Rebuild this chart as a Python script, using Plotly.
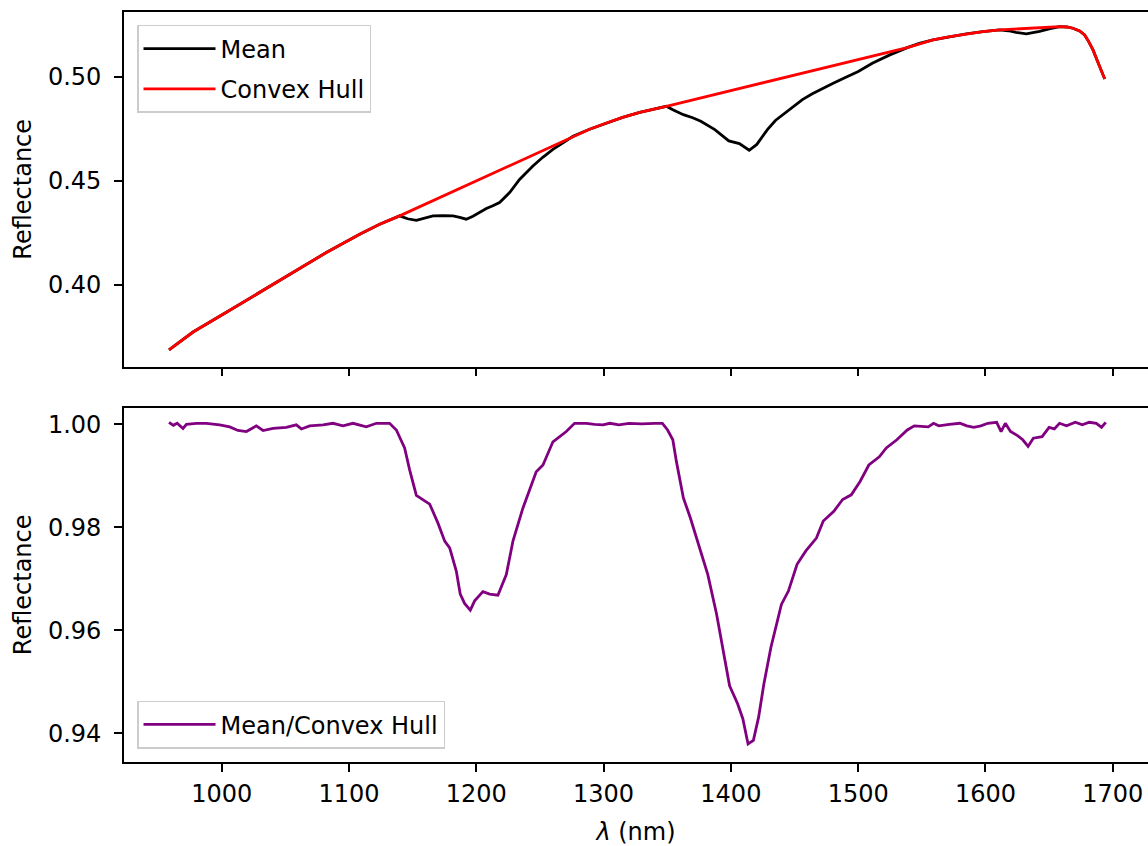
import plotly.graph_objects as go
from plotly.subplots import make_subplots

# ---- data ----
mean_wl = [958.6, 977.5, 1003.7, 1029.9, 1056.0, 1082.2, 1108.4, 1124.1, 1139.8, 1146.0,
           1152.9, 1160.0, 1166.0, 1174.0, 1181.7, 1187.0, 1192.1, 1197.4, 1203.0, 1207.9,
           1213.0, 1218.3, 1226.2, 1234.0, 1244.5, 1252.0, 1260.2, 1268.0, 1276.0, 1289.0,
           1302.2, 1315.0, 1328.4, 1340.0, 1349.3, 1354.4, 1362.7, 1370.0, 1376.4, 1387.4,
           1393.0, 1398.4, 1406.7, 1414.4, 1420.4, 1428.7, 1435.0, 1442.4, 1450.0, 1456.2,
           1464.0, 1472.6, 1480.0, 1489.1, 1500.1, 1511.1, 1524.9, 1538.6, 1548.0, 1558.8,
           1572.0, 1585.0, 1598.0, 1611.2, 1618.0, 1624.0, 1632.1, 1637.0, 1642.5, 1650.0,
           1658.3, 1664.0, 1668.7, 1674.0, 1677.9, 1681.0, 1684.5, 1689.0, 1693.7]
mean_refl = [0.3688, 0.3774, 0.3869, 0.3965, 0.4061, 0.4156, 0.4244, 0.4292, 0.4332, 0.4318,
             0.4310, 0.4322, 0.4332, 0.4333, 0.4332, 0.4325, 0.4316, 0.4330, 0.4352, 0.4367,
             0.4380, 0.4396, 0.4444, 0.4507, 0.4571, 0.4612, 0.4651, 0.4683, 0.4714, 0.4748,
             0.4778, 0.4805, 0.4829, 0.4846, 0.4858, 0.4842, 0.4818, 0.4803, 0.4786, 0.4746,
             0.4720, 0.4692, 0.4679, 0.4647, 0.4675, 0.4746, 0.4790, 0.4826, 0.4860, 0.4890,
             0.4918, 0.4946, 0.4968, 0.4994, 0.5025, 0.5065, 0.5105, 0.5140, 0.5160, 0.5177,
             0.5193, 0.5206, 0.5217, 0.5225, 0.5221, 0.5213, 0.5206, 0.5210, 0.5218, 0.5230,
             0.5241, 0.5239, 0.5233, 0.5220, 0.5201, 0.5170, 0.5129, 0.5060, 0.4989]

hull_wl = [958.6, 977.5, 1003.7, 1029.9, 1056.0, 1082.2, 1108.4, 1124.1, 1139.8, 1276.0,
           1289.0, 1302.2, 1315.0, 1328.4, 1340.0, 1349.3, 1538.6, 1558.8, 1572.0, 1585.0,
           1598.0, 1611.2, 1658.3, 1664.0, 1668.7, 1674.0, 1677.9, 1681.0, 1684.5, 1689.0,
           1693.7]
hull_refl = [0.3688, 0.3774, 0.3869, 0.3965, 0.4061, 0.4156, 0.4244, 0.4292, 0.4332, 0.4714,
             0.4748, 0.4778, 0.4805, 0.4829, 0.4846, 0.4858, 0.5140, 0.5177, 0.5193, 0.5206,
             0.5217, 0.5225, 0.5241, 0.5239, 0.5233, 0.5220, 0.5201, 0.5170, 0.5129, 0.5060,
             0.4989]

ratio_wl = [958.6, 962.0, 965.0, 969.6, 972.3, 980.1, 988.0, 998.4, 1006.3, 1012.8,
            1019.4, 1027.2, 1032.5, 1040.3, 1050.8, 1058.6, 1062.6, 1069.1, 1079.6, 1087.4,
            1095.3, 1103.1, 1113.6, 1121.5, 1131.9, 1137.2, 1143.7, 1147.6, 1152.9, 1158.1,
            1163.4, 1169.9, 1175.2, 1179.1, 1184.3, 1187.4, 1190.8, 1195.3, 1198.7, 1205.2,
            1210.5, 1217.0, 1223.6, 1228.8, 1236.6, 1247.1, 1252.4, 1260.2, 1270.7, 1277.2,
            1286.4, 1293.0, 1299.5, 1305.0, 1312.0, 1320.0, 1330.0, 1340.0, 1346.2, 1350.3,
            1354.4, 1357.2, 1362.7, 1368.2, 1375.1, 1381.9, 1388.8, 1394.3, 1399.0, 1405.3,
            1409.4, 1413.5, 1417.7, 1421.8, 1425.9, 1431.4, 1439.7, 1445.2, 1452.0, 1458.9,
            1467.2, 1472.6, 1480.9, 1487.8, 1494.6, 1501.5, 1508.4, 1516.6, 1522.1, 1530.4,
            1538.6, 1544.1, 1555.1, 1559.2, 1563.4, 1571.6, 1579.9, 1585.4, 1590.9, 1596.4,
            1601.9, 1608.8, 1612.3, 1615.6, 1619.7, 1625.2, 1629.3, 1633.5, 1637.6, 1644.5,
            1650.0, 1654.1, 1658.2, 1663.7, 1670.6, 1676.1, 1681.6, 1687.1, 1691.2, 1694.5]
ratio_refl = [1.0004, 0.9998, 1.0002, 0.9992, 1.0000, 1.0002, 1.0002, 0.9999, 0.9995, 0.9988,
              0.9986, 0.9997, 0.9988, 0.9992, 0.9994, 0.9999, 0.9991, 0.9997, 0.9999, 1.0002,
              0.9997, 1.0002, 0.9995, 1.0002, 1.0002, 0.9989, 0.9954, 0.9912, 0.9862, 0.9854,
              0.9845, 0.9808, 0.9773, 0.9760, 0.9715, 0.9670, 0.9652, 0.9639, 0.9657, 0.9675,
              0.9670, 0.9668, 0.9708, 0.9773, 0.9837, 0.9908, 0.9921, 0.9966, 0.9986, 1.0002,
              1.0002, 1.0000, 0.9999, 1.0002, 0.9999, 1.0002, 1.0001, 1.0002, 1.0002, 0.9989,
              0.9970, 0.9928, 0.9857, 0.9818, 0.9760, 0.9708, 0.9631, 0.9554, 0.9492, 0.9457,
              0.9428, 0.9379, 0.9386, 0.9431, 0.9495, 0.9566, 0.9650, 0.9676, 0.9728, 0.9754,
              0.9779, 0.9812, 0.9831, 0.9854, 0.9863, 0.9889, 0.9921, 0.9937, 0.9954, 0.9970,
              0.9989, 0.9997, 0.9995, 1.0002, 0.9997, 1.0000, 1.0002, 0.9997, 0.9994, 0.9997,
              1.0002, 1.0004, 0.9986, 1.0002, 0.9986, 0.9978, 0.9970, 0.9957, 0.9973, 0.9976,
              0.9994, 0.9991, 1.0002, 0.9997, 1.0004, 0.9999, 1.0004, 1.0002, 0.9994, 1.0004]

x_ticks = [1000, 1100, 1200, 1300, 1400, 1500, 1600, 1700]
top_ticks = [0.40, 0.45, 0.50]
bottom_ticks = [0.94, 0.96, 0.98, 1.00]

FONT = "DejaVu Sans"
FS = 24
LW = 2.8

fig = make_subplots(rows=2, cols=1, shared_xaxes=True, vertical_spacing=0.0)

fig.add_trace(go.Scatter(x=mean_wl, y=mean_refl, mode="lines", name="Mean",
                         legendgroup="g1",
                         line=dict(color="black", width=LW), legend="legend"), row=1, col=1)
fig.add_trace(go.Scatter(x=hull_wl, y=hull_refl, mode="lines", name="Convex Hull",
                         legendgroup="g2",
                         line=dict(color="red", width=LW), legend="legend"), row=1, col=1)
fig.add_trace(go.Scatter(x=ratio_wl, y=ratio_refl, mode="lines", name="Mean/Convex Hull",
                         line=dict(color="purple", width=LW), legend="legend2"), row=2, col=1)

axis_common = dict(showline=True, linecolor="black", linewidth=1.6, ticks="outside",
                   ticklen=8, tickwidth=1.6, tickcolor="black", showgrid=False, zeroline=False,
                   tickfont=dict(family=FONT, size=FS, color="black"))

xrange = [923.25, 1727.7]
fig.update_xaxes(**axis_common, mirror=True, range=xrange, tickvals=x_ticks)
fig.update_xaxes(showticklabels=False, row=1, col=1)
fig.update_xaxes(ticklabelstandoff=1,
                 title=dict(text="<i>λ</i> (nm)", font=dict(family=FONT, size=FS, color="black"),
                            standoff=22),
                 row=2, col=1)

fig.update_yaxes(**axis_common, mirror=False)
fig.update_yaxes(range=[0.3608, 0.5311], tickvals=top_ticks, tickformat=".2f",
                 domain=[0.5272, 1.0], ticklabelstandoff=8,
                 title=dict(text="Reflectance", font=dict(family=FONT, size=FS, color="black"),
                            standoff=10),
                 row=1, col=1)
fig.update_yaxes(range=[0.93439, 1.00323], tickvals=bottom_ticks, tickformat=".2f",
                 domain=[0.0, 0.4724], ticklabelstandoff=8,
                 title=dict(text="Reflectance", font=dict(family=FONT, size=FS, color="black"),
                            standoff=10),
                 row=2, col=1)

legend_style = dict(bgcolor="rgba(255,255,255,0.8)", bordercolor="#cccccc", borderwidth=1.5,
                    font=dict(family=FONT, size=FS, color="black"), xanchor="left",
                    itemwidth=72)
fig.update_layout(
    width=1148, height=846,
    margin=dict(l=124, r=0, t=12, b=81),
    paper_bgcolor="white", plot_bgcolor="white",
    font=dict(family=FONT, size=FS, color="black"),
    legend=dict(**legend_style, x=0.0127, y=0.9827, yanchor="top", tracegroupgap=6),
    legend2=dict(**legend_style, x=0.0127, y=0.0177, yanchor="bottom"),
)

fig.write_html("out.html")
